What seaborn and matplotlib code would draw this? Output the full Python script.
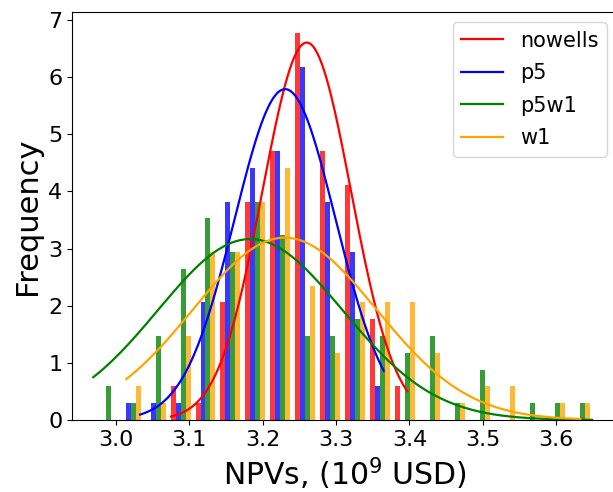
import numpy as np
import pandas as pd
import matplotlib
matplotlib.use("Agg")
import matplotlib.pyplot as plt
import seaborn as sns

# Histogram bins shared by all scenarios (NPV, 1e9 USD)
n_bins = 20
bin_range = (2.969, 3.649)

# Sample counts per bin for each scenario (100 realisations each)
counts_nowells = [0, 0, 0, 2, 1, 7, 13, 16, 23, 16, 14, 6, 2, 0, 0, 0, 0, 0, 0, 0]
counts_p5      = [0, 1, 1, 1, 7, 13, 15, 16, 21, 13, 10, 2, 0, 0, 0, 0, 0, 0, 0, 0]
counts_p5w1    = [2, 1, 5, 9, 12, 10, 13, 11, 5, 5, 6, 5, 4, 5, 1, 3, 0, 1, 1, 1]
counts_w1      = [0, 2, 1, 5, 10, 10, 13, 15, 8, 4, 7, 7, 7, 4, 1, 2, 2, 0, 1, 1]

scenarios = ["nowells", "p5", "p5w1", "w1"]
colors = ["red", "blue", "green", "orange"]

# Normal fits: mean, std and sample range of each scenario
fit_mean = [3.260, 3.2305, 3.183, 3.230]
fit_std = [0.0604, 0.0689, 0.126, 0.125]
fit_min = [3.075, 3.033, 2.969, 3.014]
fit_max = [3.397, 3.365, 3.649, 3.633]

bin_edges = np.linspace(bin_range[0], bin_range[1], n_bins + 1)
centers = 0.5 * (bin_edges[:-1] + bin_edges[1:])
hist_df = pd.concat([
    pd.DataFrame({"npv": centers, "count": c, "scenario": s})
    for s, c in zip(scenarios, [counts_nowells, counts_p5, counts_p5w1, counts_w1])
], ignore_index=True)

palette = dict(zip(scenarios, colors))

fig = plt.figure(figsize=(6.13, 4.92), dpi=100)
ax = fig.add_axes([72 / 613, 1 - 420 / 492, 545 / 613, 408 / 492])

sns.histplot(
    data=hist_df, x="npv", weights="count", hue="scenario",
    hue_order=scenarios, palette=palette, bins=n_bins, binrange=bin_range,
    multiple="dodge", shrink=0.8, stat="density", common_norm=False,
    alpha=0.78, linewidth=0, legend=False, ax=ax,
)

for name, color, mu, sd, lo, hi in zip(scenarios, colors, fit_mean, fit_std, fit_min, fit_max):
    xs = np.linspace(lo, hi, 200)
    pdf = np.exp(-0.5 * ((xs - mu) / sd) ** 2) / (sd * np.sqrt(2 * np.pi))
    sns.lineplot(x=xs, y=pdf, color=color, linewidth=1.6, label=name, ax=ax)

ax.set_xlim(2.94, 3.683)
ax.set_ylim(0, 7.14)
ax.set_xticks([3.0, 3.1, 3.2, 3.3, 3.4, 3.5, 3.6])
ax.set_yticks(range(8))
ax.tick_params(labelsize=16)
ax.set_xlabel("NPVs, (10$^9$ USD)", fontsize=21.5)
ax.set_ylabel("Frequency", fontsize=22)
ax.legend(loc="upper right", fontsize=15, labelspacing=0.6)

fig.savefig("out.png", dpi=100)
